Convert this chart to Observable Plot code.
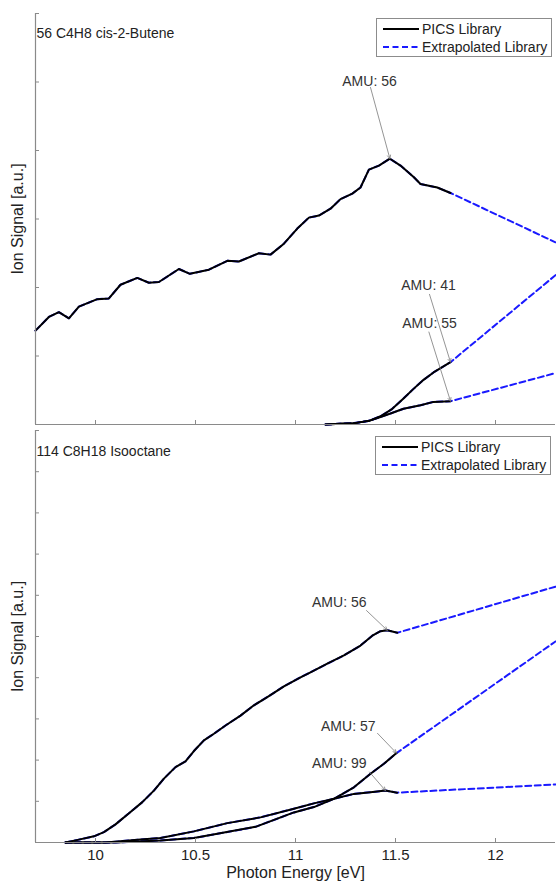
<!DOCTYPE html>
<html><head><meta charset="utf-8">
<script src="https://cdn.jsdelivr.net/npm/d3@7"></script>
<script src="https://cdn.jsdelivr.net/npm/@observablehq/plot@0.6"></script>
<style>
body{margin:0;background:#fff;font-family:"Liberation Sans",Arial,sans-serif;}
#wrap{position:relative;width:556px;height:882px;overflow:hidden;background:#fff;}
#wrap svg.plot{position:absolute;left:0;}
.legend{position:absolute;border:1px solid #8c8c8c;background:#fff;font-size:14px;color:#222;box-sizing:border-box;}
.legend .row{position:absolute;left:0;height:18px;width:100%;}
.legend .row svg{position:absolute;left:5px;top:0;}
.legend .row span{position:absolute;left:45px;top:1px;line-height:16px;white-space:nowrap;}
</style></head><body><div id="wrap"></div>
<script>
// ---------- data ----------
const xDomain = [9.7, 12.3];
const xTicks = [10, 10.5, 11, 11.5, 12];
const yTicksTop = [0, 1, 2, 3, 4, 5, 6];
const yTicksBottom = [0, 1, 2, 3, 4, 5, 6, 7, 8, 9, 10];
const topTitle = "56 C4H8 cis-2-Butene";
const bottomTitle = "114 C8H18 Isooctane";
const legendLabels = ["PICS Library", "Extrapolated Library"];
const yLabel = "Ion Signal [a.u.]";
const xLabel = "Photon Energy [eV]";

// top panel: cis-2-butene
const top56Energy = [9.7, 9.767, 9.817, 9.867, 9.917, 10.009, 10.067, 10.125, 10.209, 10.267, 10.317, 10.417, 10.472, 10.567, 10.659, 10.717, 10.817, 10.875, 10.942, 11.009, 11.067, 11.117, 11.175, 11.225, 11.284, 11.325, 11.367, 11.417, 11.472, 11.525, 11.592, 11.625, 11.709, 11.775];
const top56Signal = [1.37, 1.57, 1.64, 1.55, 1.72, 1.83, 1.84, 2.04, 2.14, 2.07, 2.08, 2.27, 2.20, 2.26, 2.39, 2.38, 2.50, 2.48, 2.64, 2.86, 3.02, 3.05, 3.15, 3.29, 3.37, 3.46, 3.72, 3.78, 3.88, 3.78, 3.61, 3.51, 3.46, 3.38];
const top56Extrap = 2.66;
const top41Energy = [11.15, 11.225, 11.29, 11.365, 11.425, 11.48, 11.54, 11.59, 11.635, 11.69, 11.775];
const top41Signal = [0, 0.01, 0.02, 0.05, 0.12, 0.22, 0.38, 0.52, 0.64, 0.76, 0.91];
const top41Extrap = 2.18;
const top55Energy = [11.15, 11.225, 11.3, 11.375, 11.425, 11.475, 11.54, 11.625, 11.69, 11.775];
const top55Signal = [0, 0.01, 0.02, 0.06, 0.11, 0.16, 0.23, 0.28, 0.33, 0.34];
const top55Extrap = 0.75;

// bottom panel: isooctane
const bot56Energy = [9.85, 9.917, 9.992, 10.042, 10.1, 10.175, 10.234, 10.292, 10.342, 10.4, 10.45, 10.492, 10.542, 10.592, 10.65, 10.725, 10.792, 10.859, 10.942, 11.025, 11.075, 11.159, 11.242, 11.325, 11.384, 11.425, 11.459, 11.509];
const bot56Signal = [0, 0.07, 0.15, 0.25, 0.44, 0.74, 0.98, 1.26, 1.55, 1.83, 1.97, 2.22, 2.48, 2.64, 2.84, 3.08, 3.33, 3.53, 3.79, 4.01, 4.13, 4.34, 4.54, 4.78, 5.02, 5.13, 5.15, 5.09];
const bot56Extrap = 6.21;
const bot57Energy = [9.85, 10.1, 10.325, 10.492, 10.609, 10.8, 10.992, 11.092, 11.192, 11.292, 11.375, 11.442, 11.505];
const bot57Signal = [0, 0, 0.05, 0.11, 0.21, 0.38, 0.73, 0.86, 1.06, 1.34, 1.67, 1.91, 2.17];
const bot57Extrap = 4.88;
const bot99Energy = [9.85, 10.05, 10.225, 10.325, 10.492, 10.659, 10.825, 10.992, 11.092, 11.192, 11.292, 11.375, 11.45, 11.508];
const bot99Signal = [0, 0, 0.07, 0.11, 0.27, 0.47, 0.61, 0.82, 0.95, 1.06, 1.18, 1.22, 1.26, 1.21];
const bot99Extrap = 1.41;

// annotation labels: text position, text anchor, arrow tail (tip = series maximum)
const topAnnLabels = ["AMU: 56", "AMU: 41", "AMU: 55"];
const topAnnTextX = [11.37, 11.665, 11.67];
const topAnnTextY = [5.0, 2.03, 1.47];
const topAnnTailX = [11.375, 11.67, 11.667];
const topAnnTailY = [4.92, 1.90, 1.35];
const topAnnAnchor = ["middle", "middle", "middle"];
const botAnnLabels = ["AMU: 56", "AMU: 57", "AMU: 99"];
const botAnnTextX = [11.355, 11.40, 11.355];
const botAnnTextY = [5.82, 2.82, 1.91];
const botAnnTailX = [11.355, 11.41, 11.37];
const botAnnTailY = [5.63, 2.65, 1.71];
const botAnnAnchor = ["end", "end", "end"];

// ---------- styles ----------
const BLUE = "#1a1aff";
const AXIS = "#8a8a8a";
const TEXT = "#222";
const W = 556, ML = 35, MR = 1;
const FONT = "'Liberation Sans', Arial, sans-serif";

function series(id, energy, signal, extrap) {
  const meas = energy.map((e, i) => ({id, x: e, y: signal[i]}));
  const dash = meas.concat([{id, x: xDomain[1], y: extrap}]);
  let tip = meas[0];
  for (const d of meas) if (d.y > tip.y) tip = d;
  return {meas, dash, tip};
}

function annotations(labels, tx, ty, ax, ay, anchor, ser) {
  return labels.map((label, i) => ({
    label, tx: tx[i], ty: ty[i], ax: ax[i], ay: ay[i], anchor: anchor[i],
    px: ser[i].tip.x, py: ser[i].tip.y
  }));
}

function panel({height, marginTop, marginBottom, yDomain, yTicks, ser, ann, title, titleDy, bottomAxis}) {
  const plotW = W - ML - MR, plotH = height - marginTop - marginBottom;
  const meas = ser.flatMap(s => s.meas), dash = ser.flatMap(s => s.dash);
  const marks = [
    Plot.line(dash, {x: "x", y: "y", z: "id", stroke: BLUE, strokeWidth: 2, strokeDasharray: "6,3.5"}),
    Plot.line(meas, {x: "x", y: "y", z: "id", stroke: "#000", strokeWidth: 2}),
    Plot.ruleX([xDomain[0]], {stroke: AXIS, strokeWidth: 1.2}),
    Plot.ruleY([yDomain[0]], {stroke: AXIS, strokeWidth: 1.2}),
    Plot.tickY(yTicks, {y: d => d, stroke: AXIS, insetRight: plotW - 4}),
    Plot.tickX(xTicks, {x: d => d, stroke: AXIS, insetTop: plotH - 4}),
    Plot.arrow(ann, {x1: "ax", y1: "ay", x2: "px", y2: "py", stroke: "#7a7a7a", strokeWidth: 0.8, headLength: 7, headAngle: 50, bend: 0}),
    Plot.text(ann.filter(d => d.anchor === "middle"), {x: "tx", y: "ty", text: "label", textAnchor: "middle", lineAnchor: "middle", fontSize: 14, fill: "#333"}),
    Plot.text(ann.filter(d => d.anchor === "end"), {x: "tx", y: "ty", text: "label", textAnchor: "end", lineAnchor: "middle", fontSize: 14, fill: "#333"}),
    Plot.text([title], {text: d => d, frameAnchor: "top-left", dx: 1, dy: titleDy, textAnchor: "start", lineAnchor: "middle", fontSize: 14, fill: TEXT}),
    Plot.text([yLabel], {text: d => d, frameAnchor: "left", dx: -17.5, rotate: -90, textAnchor: "middle", lineAnchor: "middle", fontSize: 16, fill: TEXT})
  ];
  if (bottomAxis) {
    marks.push(Plot.axisX(xTicks, {anchor: "bottom", tickSize: 0, tickPadding: 7, fontSize: 15, color: TEXT, label: null, tickFormat: d => String(d)}));
    marks.push(Plot.text([xLabel], {text: d => d, frameAnchor: "bottom", dy: 30, textAnchor: "middle", lineAnchor: "middle", fontSize: 16, fill: TEXT}));
  }
  return Plot.plot({
    width: W, height, marginLeft: ML, marginRight: MR, marginTop, marginBottom,
    style: {fontFamily: FONT, background: "transparent", overflow: "visible"},
    x: {domain: xDomain, axis: bottomAxis ? undefined : null},
    y: {domain: yDomain, axis: null},
    marks
  });
}

function legend(left, top) {
  const div = document.createElement("div");
  div.className = "legend";
  Object.assign(div.style, {left: left + "px", top: top + "px", width: "176px", height: "39px"});
  const rows = [
    {label: legendLabels[0], stroke: "#000", dash: null},
    {label: legendLabels[1], stroke: BLUE, dash: "6,3.5"}
  ];
  rows.forEach((r, i) => {
    const row = document.createElement("div");
    row.className = "row";
    row.style.top = (1 + i * 18) + "px";
    row.innerHTML = `<svg width="38" height="18"><line x1="1" x2="37" y1="9" y2="9" stroke="${r.stroke}" stroke-width="2" ${r.dash ? `stroke-dasharray="${r.dash}"` : ""}/></svg><span>${r.label}</span>`;
    div.appendChild(row);
  });
  return div;
}

const wrap = document.getElementById("wrap");

const topSer = [
  series("56", top56Energy, top56Signal, top56Extrap),
  series("41", top41Energy, top41Signal, top41Extrap),
  series("55", top55Energy, top55Signal, top55Extrap)
];
const botSer = [
  series("56", bot56Energy, bot56Signal, bot56Extrap),
  series("57", bot57Energy, bot57Signal, bot57Extrap),
  series("99", bot99Energy, bot99Signal, bot99Extrap)
];

const topPlot = panel({
  height: 427, marginTop: 13, marginBottom: 3, yDomain: [0, 6], yTicks: yTicksTop,
  ser: topSer, ann: annotations(topAnnLabels, topAnnTextX, topAnnTextY, topAnnTailX, topAnnTailY, topAnnAnchor, topSer),
  title: topTitle, titleDy: 20, bottomAxis: false
});
topPlot.classList.add("plot");
topPlot.style.top = "0px";
wrap.appendChild(topPlot);

const botPlot = panel({
  height: 455, marginTop: 3, marginBottom: 40, yDomain: [0, 10], yTicks: yTicksBottom,
  ser: botSer, ann: annotations(botAnnLabels, botAnnTextX, botAnnTextY, botAnnTailX, botAnnTailY, botAnnAnchor, botSer),
  title: bottomTitle, titleDy: 21, bottomAxis: true
});
botPlot.classList.add("plot");
botPlot.style.top = "427px";
wrap.appendChild(botPlot);

wrap.appendChild(legend(376, 18));
wrap.appendChild(legend(375, 436));
</script></body></html>
